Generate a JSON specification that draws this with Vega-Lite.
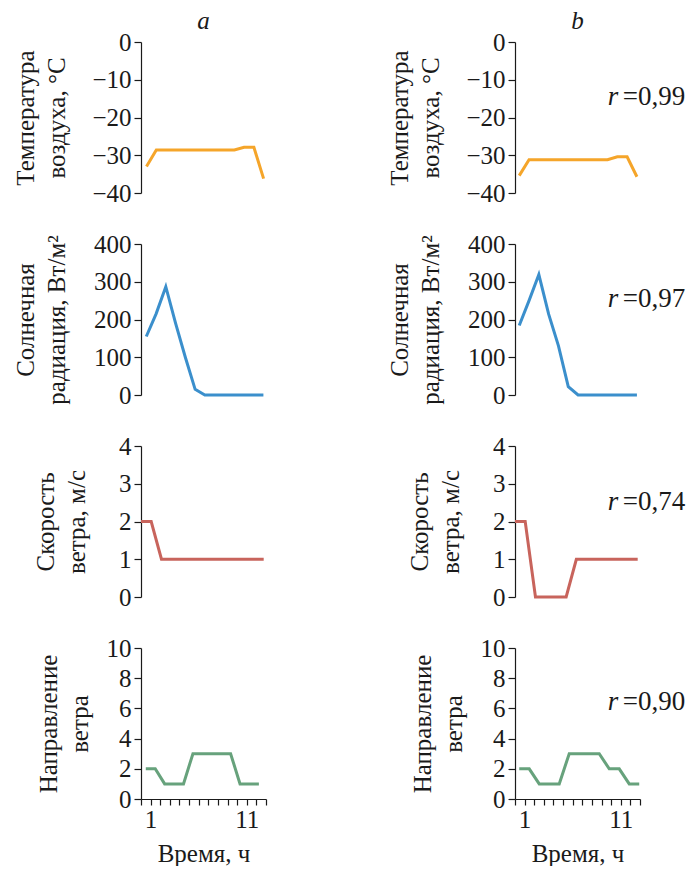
{
  "$schema": "https://vega.github.io/schema/vega-lite/v6.json",
  "padding": {"left": 13, "top": 9, "right": 0, "bottom": 0},
  "config": {
    "view": {"stroke": null},
    "font": "Liberation Serif",
    "axis": {
      "labelFont": "Liberation Serif", "titleFont": "Liberation Serif",
      "labelFontSize": 25, "titleFontSize": 25, "titleFontWeight": "normal",
      "labelColor": "#1a1a1a", "titleColor": "#1a1a1a",
      "domainColor": "#1a1a1a", "tickColor": "#1a1a1a",
      "domainWidth": 1.2, "tickWidth": 1.2, "tickSize": 7, "labelPadding": 3,
      "grid": false, "titleLineHeight": 31, "titlePadding": 14,
      "labelFlush": false, "labelOverlap": false
    },
    "text": {"font": "Liberation Serif", "fontSize": 27, "color": "#1a1a1a", "align": "left", "baseline": "middle"},
    "title": {"font": "Liberation Serif", "fontSize": 25, "fontStyle": "italic", "fontWeight": "normal", "anchor": "middle", "frame": "group", "color": "#1a1a1a", "offset": -4}
  },
  "datasets": {
    "lines": [
      {"s": "ta", "t": 0.57, "v": -33}, {"s": "ta", "t": 1.59, "v": -28.6}, {"s": "ta", "t": 2.6, "v": -28.6}, {"s": "ta", "t": 3.62, "v": -28.6}, {"s": "ta", "t": 4.63, "v": -28.6}, {"s": "ta", "t": 5.65, "v": -28.6}, {"s": "ta", "t": 6.66, "v": -28.6}, {"s": "ta", "t": 7.68, "v": -28.6}, {"s": "ta", "t": 8.69, "v": -28.6}, {"s": "ta", "t": 9.71, "v": -28.6}, {"s": "ta", "t": 10.72, "v": -27.9}, {"s": "ta", "t": 11.74, "v": -27.9}, {"s": "ta", "t": 12.75, "v": -36.2},
      {"s": "tb", "t": 0.44, "v": -35.4}, {"s": "tb", "t": 1.46, "v": -31.2}, {"s": "tb", "t": 2.48, "v": -31.2}, {"s": "tb", "t": 3.5, "v": -31.2}, {"s": "tb", "t": 4.52, "v": -31.2}, {"s": "tb", "t": 5.54, "v": -31.2}, {"s": "tb", "t": 6.56, "v": -31.2}, {"s": "tb", "t": 7.58, "v": -31.2}, {"s": "tb", "t": 8.6, "v": -31.2}, {"s": "tb", "t": 9.62, "v": -31.2}, {"s": "tb", "t": 10.64, "v": -30.4}, {"s": "tb", "t": 11.66, "v": -30.4}, {"s": "tb", "t": 12.68, "v": -35.7},
      {"s": "ra", "t": 0.55, "v": 155}, {"s": "ra", "t": 1.57, "v": 215}, {"s": "ra", "t": 2.58, "v": 287}, {"s": "ra", "t": 3.6, "v": 190}, {"s": "ra", "t": 4.61, "v": 100}, {"s": "ra", "t": 5.63, "v": 15}, {"s": "ra", "t": 6.64, "v": 0}, {"s": "ra", "t": 7.66, "v": 0}, {"s": "ra", "t": 8.67, "v": 0}, {"s": "ra", "t": 9.69, "v": 0}, {"s": "ra", "t": 10.7, "v": 0}, {"s": "ra", "t": 11.72, "v": 0}, {"s": "ra", "t": 12.73, "v": 0},
      {"s": "rb", "t": 0.44, "v": 184}, {"s": "rb", "t": 1.46, "v": 250}, {"s": "rb", "t": 2.48, "v": 319}, {"s": "rb", "t": 3.5, "v": 214}, {"s": "rb", "t": 4.52, "v": 130}, {"s": "rb", "t": 5.54, "v": 22}, {"s": "rb", "t": 6.56, "v": 0}, {"s": "rb", "t": 7.58, "v": 0}, {"s": "rb", "t": 8.6, "v": 0}, {"s": "rb", "t": 9.62, "v": 0}, {"s": "rb", "t": 10.64, "v": 0}, {"s": "rb", "t": 11.66, "v": 0}, {"s": "rb", "t": 12.68, "v": 0},
      {"s": "wa", "t": 0, "v": 2}, {"s": "wa", "t": 1.06, "v": 2}, {"s": "wa", "t": 2.13, "v": 1}, {"s": "wa", "t": 3.19, "v": 1}, {"s": "wa", "t": 4.25, "v": 1}, {"s": "wa", "t": 5.32, "v": 1}, {"s": "wa", "t": 6.38, "v": 1}, {"s": "wa", "t": 7.44, "v": 1}, {"s": "wa", "t": 8.5, "v": 1}, {"s": "wa", "t": 9.57, "v": 1}, {"s": "wa", "t": 10.63, "v": 1}, {"s": "wa", "t": 11.69, "v": 1}, {"s": "wa", "t": 12.76, "v": 1},
      {"s": "wb", "t": 0, "v": 2}, {"s": "wb", "t": 1.06, "v": 2}, {"s": "wb", "t": 2.13, "v": 0}, {"s": "wb", "t": 3.19, "v": 0}, {"s": "wb", "t": 4.25, "v": 0}, {"s": "wb", "t": 5.32, "v": 0}, {"s": "wb", "t": 6.38, "v": 1}, {"s": "wb", "t": 7.44, "v": 1}, {"s": "wb", "t": 8.5, "v": 1}, {"s": "wb", "t": 9.57, "v": 1}, {"s": "wb", "t": 10.63, "v": 1}, {"s": "wb", "t": 11.69, "v": 1}, {"s": "wb", "t": 12.76, "v": 1},
      {"s": "da", "t": 0.5, "v": 2}, {"s": "da", "t": 1.48, "v": 2}, {"s": "da", "t": 2.46, "v": 1}, {"s": "da", "t": 3.44, "v": 1}, {"s": "da", "t": 4.42, "v": 1}, {"s": "da", "t": 5.4, "v": 3}, {"s": "da", "t": 6.38, "v": 3}, {"s": "da", "t": 7.36, "v": 3}, {"s": "da", "t": 8.34, "v": 3}, {"s": "da", "t": 9.32, "v": 3}, {"s": "da", "t": 10.3, "v": 1}, {"s": "da", "t": 11.28, "v": 1}, {"s": "da", "t": 12.26, "v": 1},
      {"s": "db", "t": 0.44, "v": 2}, {"s": "db", "t": 1.48, "v": 2}, {"s": "db", "t": 2.52, "v": 1}, {"s": "db", "t": 3.56, "v": 1}, {"s": "db", "t": 4.6, "v": 1}, {"s": "db", "t": 5.64, "v": 3}, {"s": "db", "t": 6.68, "v": 3}, {"s": "db", "t": 7.72, "v": 3}, {"s": "db", "t": 8.76, "v": 3}, {"s": "db", "t": 9.8, "v": 2}, {"s": "db", "t": 10.84, "v": 2}, {"s": "db", "t": 11.88, "v": 1}, {"s": "db", "t": 12.92, "v": 1}
    ],
    "notes": [
      {"s": "tb", "t": 9.65, "v": -14.5, "sym": "r", "val": "=0,99"},
      {"s": "rb", "t": 9.65, "v": 255, "sym": "r", "val": "=0,97"},
      {"s": "wb", "t": 9.65, "v": 2.52, "sym": "r", "val": "=0,74"},
      {"s": "db", "t": 9.65, "v": 6.4, "sym": "r", "val": "=0,90"}
    ]
  },
  "columns": 2,
  "bounds": "flush",
  "spacing": {"row": 51, "column": 249},
  "concat": [
    {
      "width": 125, "height": 151, "title": {"text": "a"},
      "data": {"name": "lines"}, "transform": [{"filter": "datum.s==='ta'"}],
      "mark": {"type": "line", "color": "#F5A52A", "strokeWidth": 3},
      "encoding": {
        "x": {"field": "t", "type": "quantitative", "scale": {"domain": [0, 13]}, "axis": null},
        "y": {"field": "v", "type": "quantitative", "scale": {"domain": [-40, 0], "nice": false, "zero": false}, "axis": {"title": ["Температура", "воздуха, °C"], "values": [0, -10, -20, -30, -40], "titlePadding": 22}}
      }
    },
    {
      "width": 125, "height": 151, "title": {"text": "b"},
      "encoding": {
        "x": {"field": "t", "type": "quantitative", "scale": {"domain": [0, 13]}, "axis": null},
        "y": {"field": "v", "type": "quantitative", "scale": {"domain": [-40, 0], "nice": false, "zero": false}, "axis": {"title": ["Температура", "воздуха, °C"], "values": [0, -10, -20, -30, -40], "titlePadding": 22}}
      },
      "layer": [
        {"data": {"name": "lines"}, "transform": [{"filter": "datum.s==='tb'"}], "mark": {"type": "line", "color": "#F5A52A", "strokeWidth": 3}},
        {"data": {"name": "notes"}, "transform": [{"filter": "datum.s==='tb'"}], "mark": {"type": "text", "fontStyle": "italic"}, "encoding": {"text": {"field": "sym"}}},
        {"data": {"name": "notes"}, "transform": [{"filter": "datum.s==='tb'"}], "mark": {"type": "text", "dx": 15}, "encoding": {"text": {"field": "val"}}}
      ]
    },
    {
      "width": 125, "height": 151,
      "data": {"name": "lines"}, "transform": [{"filter": "datum.s==='ra'"}],
      "mark": {"type": "line", "color": "#3B8FCC", "strokeWidth": 3},
      "encoding": {
        "x": {"field": "t", "type": "quantitative", "scale": {"domain": [0, 13]}, "axis": null},
        "y": {"field": "v", "type": "quantitative", "scale": {"domain": [0, 400], "nice": false}, "axis": {"title": ["Солнечная", "радиация, Вт/м²"], "values": [0, 100, 200, 300, 400], "titlePadding": 24}}
      }
    },
    {
      "width": 125, "height": 151,
      "encoding": {
        "x": {"field": "t", "type": "quantitative", "scale": {"domain": [0, 13]}, "axis": null},
        "y": {"field": "v", "type": "quantitative", "scale": {"domain": [0, 400], "nice": false}, "axis": {"title": ["Солнечная", "радиация, Вт/м²"], "values": [0, 100, 200, 300, 400], "titlePadding": 24}}
      },
      "layer": [
        {"data": {"name": "lines"}, "transform": [{"filter": "datum.s==='rb'"}], "mark": {"type": "line", "color": "#3B8FCC", "strokeWidth": 3}},
        {"data": {"name": "notes"}, "transform": [{"filter": "datum.s==='rb'"}], "mark": {"type": "text", "fontStyle": "italic"}, "encoding": {"text": {"field": "sym"}}},
        {"data": {"name": "notes"}, "transform": [{"filter": "datum.s==='rb'"}], "mark": {"type": "text", "dx": 15}, "encoding": {"text": {"field": "val"}}}
      ]
    },
    {
      "width": 125, "height": 151,
      "data": {"name": "lines"}, "transform": [{"filter": "datum.s==='wa'"}],
      "mark": {"type": "line", "color": "#C8645C", "strokeWidth": 3},
      "encoding": {
        "x": {"field": "t", "type": "quantitative", "scale": {"domain": [0, 13]}, "axis": null},
        "y": {"field": "v", "type": "quantitative", "scale": {"domain": [0, 4], "nice": false}, "axis": {"title": ["Скорость", "ветра, м/с"], "values": [0, 1, 2, 3, 4], "titlePadding": 29}}
      }
    },
    {
      "width": 125, "height": 151,
      "encoding": {
        "x": {"field": "t", "type": "quantitative", "scale": {"domain": [0, 13]}, "axis": null},
        "y": {"field": "v", "type": "quantitative", "scale": {"domain": [0, 4], "nice": false}, "axis": {"title": ["Скорость", "ветра, м/с"], "values": [0, 1, 2, 3, 4], "titlePadding": 29}}
      },
      "layer": [
        {"data": {"name": "lines"}, "transform": [{"filter": "datum.s==='wb'"}], "mark": {"type": "line", "color": "#C8645C", "strokeWidth": 3}},
        {"data": {"name": "notes"}, "transform": [{"filter": "datum.s==='wb'"}], "mark": {"type": "text", "fontStyle": "italic"}, "encoding": {"text": {"field": "sym"}}},
        {"data": {"name": "notes"}, "transform": [{"filter": "datum.s==='wb'"}], "mark": {"type": "text", "dx": 15}, "encoding": {"text": {"field": "val"}}}
      ]
    },
    {
      "width": 125, "height": 151,
      "data": {"name": "lines"}, "transform": [{"filter": "datum.s==='da'"}],
      "mark": {"type": "line", "color": "#67A27C", "strokeWidth": 3},
      "encoding": {
        "x": {"field": "t", "type": "quantitative", "scale": {"domain": [0, 13]}, "axis": {"title": "Время, ч", "values": [0, 1, 2, 3, 4, 5, 6, 7, 8, 9, 10, 11, 12, 13], "labelExpr": "datum.value===1||datum.value===11?datum.label:''", "tickSize": 6, "labelPadding": 2, "titlePadding": 9}},
        "y": {"field": "v", "type": "quantitative", "scale": {"domain": [0, 10], "nice": false}, "axis": {"title": ["Направление", "ветра"], "values": [0, 2, 4, 6, 8, 10], "titlePadding": 14}}
      }
    },
    {
      "width": 125, "height": 151,
      "encoding": {
        "x": {"field": "t", "type": "quantitative", "scale": {"domain": [0, 13]}, "axis": {"title": "Время, ч", "values": [0, 1, 2, 3, 4, 5, 6, 7, 8, 9, 10, 11, 12, 13], "labelExpr": "datum.value===1||datum.value===11?datum.label:''", "tickSize": 6, "labelPadding": 2, "titlePadding": 9}},
        "y": {"field": "v", "type": "quantitative", "scale": {"domain": [0, 10], "nice": false}, "axis": {"title": ["Направление", "ветра"], "values": [0, 2, 4, 6, 8, 10], "titlePadding": 14}}
      },
      "layer": [
        {"data": {"name": "lines"}, "transform": [{"filter": "datum.s==='db'"}], "mark": {"type": "line", "color": "#67A27C", "strokeWidth": 3}},
        {"data": {"name": "notes"}, "transform": [{"filter": "datum.s==='db'"}], "mark": {"type": "text", "fontStyle": "italic"}, "encoding": {"text": {"field": "sym"}}},
        {"data": {"name": "notes"}, "transform": [{"filter": "datum.s==='db'"}], "mark": {"type": "text", "dx": 15}, "encoding": {"text": {"field": "val"}}}
      ]
    }
  ]
}
